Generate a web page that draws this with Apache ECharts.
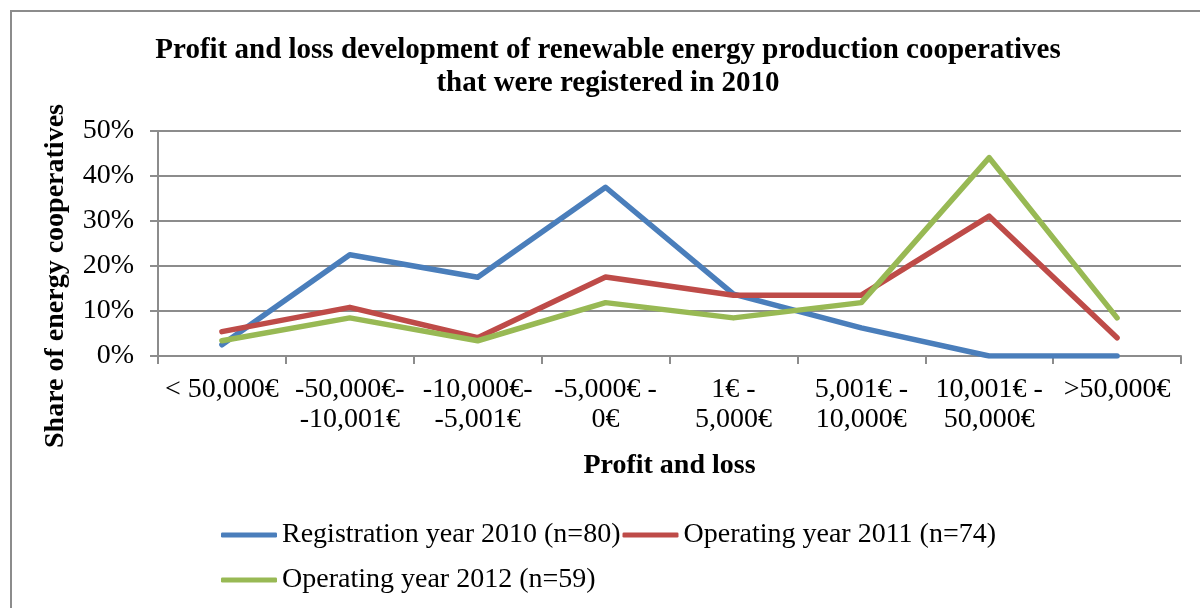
<!DOCTYPE html>
<html>
<head>
<meta charset="utf-8">
<script src="https://cdn.jsdelivr.net/npm/echarts@6/dist/echarts.min.js"></script>
<style>
html,body{margin:0;padding:0;background:#fff;}
#chart{width:1200px;height:608px;}
</style>
</head>
<body>
<div id="chart"></div>
<script>
const categories = ['< 50,000€', '-50,000€-\n-10,001€', '-10,000€-\n-5,001€', '-5,000€ -\n0€', '1€ -\n5,000€', '5,001€ -\n10,000€', '10,001€ -\n50,000€', '>50,000€'];
const seriesNames = ['Registration year 2010 (n=80)', 'Operating year 2011 (n=74)', 'Operating year 2012 (n=59)'];
const reg2010 = [2.5, 22.5, 17.5, 37.5, 13.75, 6.25, 0, 0];
const op2011 = [5.41, 10.81, 4.05, 17.57, 13.51, 13.51, 31.08, 4.05];
const op2012 = [3.39, 8.47, 3.39, 11.86, 8.47, 11.86, 44.07, 8.47];
const yTicks = [0, 10, 20, 30, 40, 50];
const titleText = 'Profit and loss development of renewable energy production cooperatives\nthat were registered in 2010';
const yAxisTitle = 'Share of energy cooperatives';
const xAxisTitle = 'Profit and loss';

const colors = ['#4A7EBB', '#BE4B48', '#98B954'];
const serif = '"Liberation Serif", "Times New Roman", serif';
const FS = 28;
const chart = echarts.init(document.getElementById('chart'));
const mk = (name, data, i) => ({
  name, type: 'line', data, symbol: 'none', smooth: false,
  lineStyle: { width: 5.5, color: colors[i], cap: 'round', join: 'round' },
  itemStyle: { color: colors[i] }
});
const legendBase = {
  left: 216, itemWidth: 56, itemHeight: 5, itemGap: 2, icon: 'roundRect',
  textStyle: { fontFamily: serif, fontSize: FS, color: '#000' }
};
chart.setOption({
  animation: false,
  backgroundColor: '#fff',
  graphic: [
    { type: 'rect', shape: { x: 11, y: 11, width: 1400, height: 800 }, style: { fill: 'none', stroke: '#8c8c8c', lineWidth: 2 }, z: 0 },
    { type: 'text', x: 608, y: 67, style: { text: titleText, font: 'bold 29px ' + serif, fill: '#000', align: 'center', verticalAlign: 'middle', lineHeight: 33 } },
    { type: 'text', x: 56, y: 276, rotation: Math.PI / 2, style: { text: yAxisTitle, font: 'bold ' + FS + 'px ' + serif, fill: '#000', align: 'center', verticalAlign: 'middle' } }
  ],
  grid: { left: 158, right: 19, top: 131, bottom: 252, containLabel: false },
  legend: [
    Object.assign({}, legendBase, { data: [seriesNames[0], seriesNames[1]], top: 516 }),
    Object.assign({}, legendBase, { data: [seriesNames[2]], top: 561 })
  ],
  xAxis: {
    type: 'category', data: categories, boundaryGap: true,
    name: xAxisTitle, nameLocation: 'middle', nameGap: 96,
    nameTextStyle: { fontFamily: serif, fontSize: FS, fontWeight: 'bold', color: '#000' },
    axisLine: { lineStyle: { color: '#8c8c8c', width: 2 } },
    axisTick: { show: true, length: 8, lineStyle: { color: '#8c8c8c', width: 2 } },
    axisLabel: { fontFamily: serif, fontSize: FS, color: '#000', interval: 0, lineHeight: 30, margin: 19 }
  },
  yAxis: {
    type: 'value', min: 0, max: 50, interval: 10,
    axisLine: { show: true, lineStyle: { color: '#8c8c8c', width: 2 } },
    axisTick: { show: true, length: 8, lineStyle: { color: '#8c8c8c', width: 2 } },
    splitLine: { lineStyle: { color: '#8c8c8c', width: 2 } },
    axisLabel: { fontFamily: serif, fontSize: FS, color: '#000', margin: 24, formatter: v => yTicks.includes(v) ? v + '%' : '' }
  },
  series: [mk(seriesNames[0], reg2010, 0), mk(seriesNames[1], op2011, 1), mk(seriesNames[2], op2012, 2)]
});
</script>
</body>
</html>
